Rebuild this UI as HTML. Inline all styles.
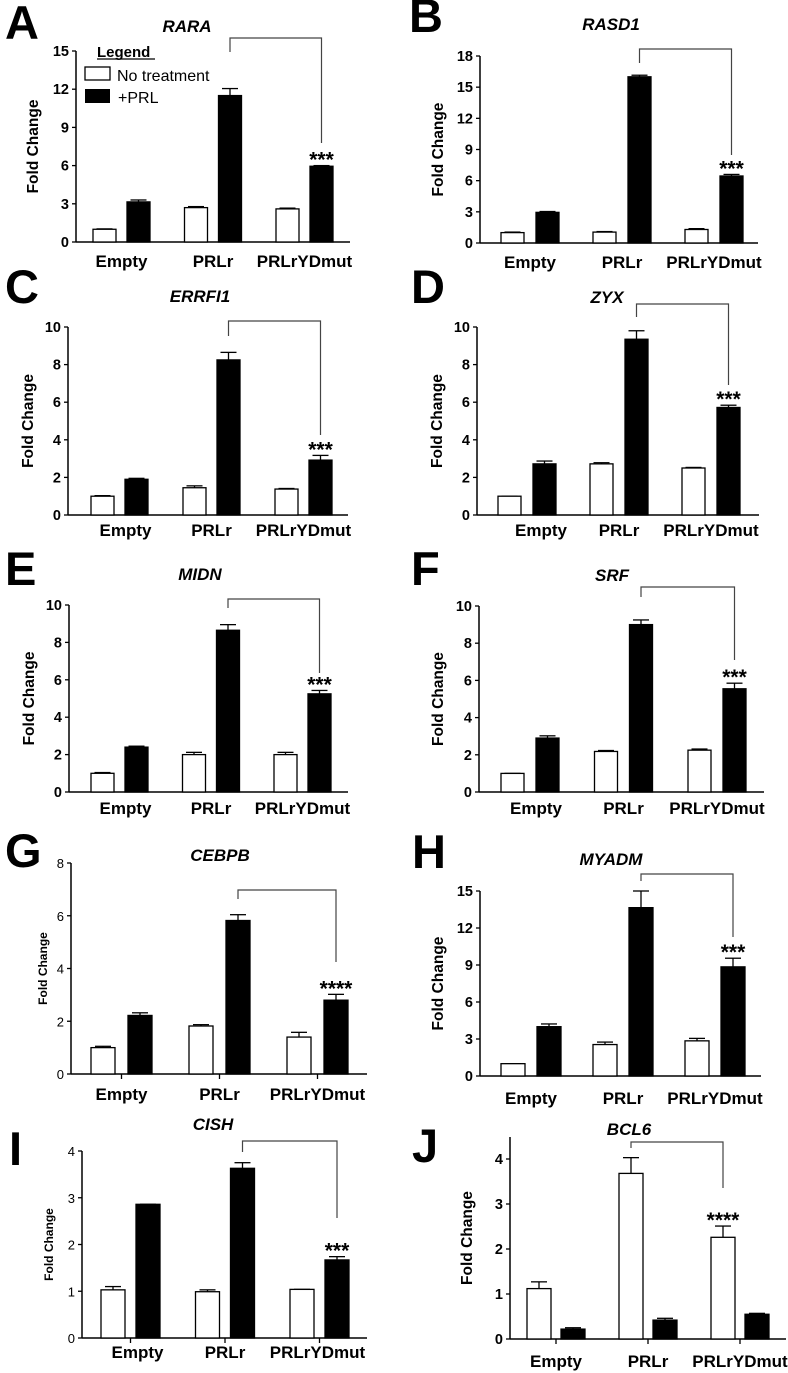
<!DOCTYPE html>
<html><head><meta charset="utf-8">
<style>
html,body{margin:0;padding:0;background:#fff;}
svg{display:block;font-family:"Liberation Sans",Arial,sans-serif;}
</style></head>
<body>
<svg id="fig" width="788" height="1373" viewBox="0 0 788 1373" xmlns="http://www.w3.org/2000/svg">
<rect width="788" height="1373" fill="#fff"/>
<g>
  <text x="97" y="57" font-size="15" font-weight="bold">Legend</text>
  <line x1="97" y1="59" x2="155" y2="59" stroke="#000" stroke-width="1.3"/>
  <rect x="85" y="67" width="25" height="13" fill="#fff" stroke="#000" stroke-width="1.3"/>
  <text x="117" y="81" font-size="16">No treatment</text>
  <rect x="85" y="89" width="25" height="14" fill="#000"/>
  <text x="118" y="103" font-size="16">+PRL</text>
</g>
</svg>
<script>
const categories = ["Empty","PRLr","PRLrYDmut"];

const raraNoTx = [1.0, 2.7, 2.6];
const raraPrl = [3.15, 11.5, 5.95];
const raraNoTxErr = [0.03, 0.08, 0.06];
const raraPrlErr = [0.15, 0.55, 0.05];
const raraTicks = [0,3,6,9,12,15];

const rasd1NoTx = [1.0, 1.05, 1.3];
const rasd1Prl = [2.95, 16.0, 6.45];
const rasd1NoTxErr = [0.05, 0.05, 0.08];
const rasd1PrlErr = [0.08, 0.15, 0.15];
const rasd1Ticks = [0,3,6,9,12,15,18];

const errfi1NoTx = [1.0, 1.45, 1.38];
const errfi1Prl = [1.9, 8.25, 2.92];
const errfi1NoTxErr = [0.03, 0.1, 0.03];
const errfi1PrlErr = [0.05, 0.4, 0.25];
const errfi1Ticks = [0,2,4,6,8,10];

const zyxNoTx = [1.0, 2.72, 2.5];
const zyxPrl = [2.72, 9.35, 5.72];
const zyxNoTxErr = [0.0, 0.06, 0.03];
const zyxPrlErr = [0.15, 0.45, 0.12];
const zyxTicks = [0,2,4,6,8,10];

const midnNoTx = [1.0, 2.0, 2.0];
const midnPrl = [2.4, 8.65, 5.25];
const midnNoTxErr = [0.04, 0.12, 0.12];
const midnPrlErr = [0.05, 0.3, 0.18];
const midnTicks = [0,2,4,6,8,10];

const srfNoTx = [1.0, 2.18, 2.25];
const srfPrl = [2.9, 9.0, 5.55];
const srfNoTxErr = [0.0, 0.05, 0.06];
const srfPrlErr = [0.12, 0.25, 0.3];
const srfTicks = [0,2,4,6,8,10];

const cebpbNoTx = [1.0, 1.82, 1.4];
const cebpbPrl = [2.22, 5.82, 2.8];
const cebpbNoTxErr = [0.05, 0.05, 0.18];
const cebpbPrlErr = [0.1, 0.22, 0.22];
const cebpbTicks = [0,2,4,6,8];

const myadmNoTx = [1.0, 2.55, 2.85];
const myadmPrl = [4.0, 13.65, 8.85];
const myadmNoTxErr = [0.0, 0.2, 0.2];
const myadmPrlErr = [0.22, 1.35, 0.7];
const myadmTicks = [0,3,6,9,12,15];

const cishNoTx = [1.03, 0.99, 1.04];
const cishPrl = [2.86, 3.63, 1.67];
const cishNoTxErr = [0.07, 0.04, 0.0];
const cishPrlErr = [0.0, 0.12, 0.07];
const cishTicks = [0,1,2,3,4];

const bcl6NoTx = [1.12, 3.68, 2.26];
const bcl6Prl = [0.22, 0.42, 0.55];
const bcl6NoTxErr = [0.15, 0.35, 0.25];
const bcl6PrlErr = [0.03, 0.04, 0.02];
const bcl6Ticks = [0,1,2,3,4];

const panels = [
 {id:"rara",letter:"A",lx:5,ly:39,title:"RARA",tx:187,ty:32,ax:76,y0:242,yTopPx:51,yMax:15,xEnd:350,o:17,g:91.5,d:34,w:23,
  noTx:raraNoTx,prl:raraPrl,noTxErr:raraNoTxErr,prlErr:raraPrlErr,ticks:raraTicks,br:[38,52,143],stars:"***",starOn:1,labDy:25,labDx:[0,0,0],titleDx:-38},
 {id:"rasd1",letter:"B",lx:409,ly:32,title:"RASD1",tx:611,ty:30,ax:480,y0:243,yTopPx:56,yMax:18,xEnd:758,o:21,g:92,d:35,w:23,
  noTx:rasd1NoTx,prl:rasd1Prl,noTxErr:rasd1NoTxErr,prlErr:rasd1PrlErr,ticks:rasd1Ticks,br:[49,63,155],stars:"***",starOn:1,labDy:25,labDx:[0,0,0],titleDx:-37},
 {id:"errfi1",letter:"C",lx:5,ly:303,title:"ERRFI1",tx:200,ty:302,ax:68,y0:515,yTopPx:327,yMax:10,xEnd:348,o:23,g:92,d:34,w:23,
  noTx:errfi1NoTx,prl:errfi1Prl,noTxErr:errfi1NoTxErr,prlErr:errfi1PrlErr,ticks:errfi1Ticks,br:[321,336,435],stars:"***",starOn:1,labDy:21,labDx:[6,0,0],titleDx:-35},
 {id:"zyx",letter:"D",lx:411,ly:303,title:"ZYX",tx:607,ty:303,ax:477,y0:515,yTopPx:327,yMax:10,xEnd:759,o:21,g:92,d:35,w:23,
  noTx:zyxNoTx,prl:zyxPrl,noTxErr:zyxNoTxErr,prlErr:zyxPrlErr,ticks:zyxTicks,br:[304,317,385],stars:"***",starOn:1,labDy:21,labDx:[14,0,0],titleDx:-35},
 {id:"midn",letter:"E",lx:5,ly:585,title:"MIDN",tx:200,ty:580,ax:69,y0:792,yTopPx:605,yMax:10,xEnd:348,o:22,g:91.5,d:34,w:23,
  noTx:midnNoTx,prl:midnPrl,noTxErr:midnNoTxErr,prlErr:midnPrlErr,ticks:midnTicks,br:[599,608,673],stars:"***",starOn:1,labDy:22,labDx:[6,0,0],titleDx:-35},
 {id:"srf",letter:"F",lx:411,ly:585,title:"SRF",tx:612,ty:581,ax:479,y0:792,yTopPx:606,yMax:10,xEnd:764,o:22,g:93.5,d:35,w:23,
  noTx:srfNoTx,prl:srfPrl,noTxErr:srfNoTxErr,prlErr:srfPrlErr,ticks:srfTicks,br:[587,597,660],stars:"***",starOn:1,labDy:22,labDx:[6,0,0],titleDx:-36},
 {id:"cebpb",letter:"G",lx:5,ly:867,title:"CEBPB",tx:220,ty:861,ax:71,y0:1074,yTopPx:863,yMax:8,xEnd:367,o:20,g:98,d:37,w:24,
  noTx:cebpbNoTx,prl:cebpbPrl,noTxErr:cebpbNoTxErr,prlErr:cebpbPrlErr,ticks:cebpbTicks,br:[890,899,962],stars:"****",starOn:1,labDy:26,labDx:[0,0,0],titleDx:-24,light:true,xTicks:true},
 {id:"myadm",letter:"H",lx:412,ly:868,title:"MYADM",tx:611,ty:865,ax:480,y0:1076,yTopPx:891,yMax:15,xEnd:761,o:21,g:92,d:36,w:24,
  noTx:myadmNoTx,prl:myadmPrl,noTxErr:myadmNoTxErr,prlErr:myadmPrlErr,ticks:myadmTicks,br:[874,881,937],stars:"***",starOn:1,labDy:28,labDx:[0,0,0],titleDx:-37},
 {id:"cish",letter:"I",lx:9,ly:1165,title:"CISH",tx:213,ty:1130,ax:82,y0:1338,yTopPx:1151,yMax:4,xEnd:367,o:19,g:94.5,d:35,w:24,
  noTx:cishNoTx,prl:cishPrl,noTxErr:cishNoTxErr,prlErr:cishPrlErr,ticks:cishTicks,br:[1141,1152,1218],stars:"***",starOn:1,labDy:20,labDx:[7,0,-2],titleDx:-29,light:true,xTicks:true},
 {id:"bcl6",letter:"J",lx:412,ly:1162,title:"BCL6",tx:629,ty:1135,ax:510,y0:1339,yTopPx:1159,yMax:4,axisTopPx:1137,xEnd:786,o:17,g:92,d:34,w:24,
  noTx:bcl6NoTx,prl:bcl6Prl,noTxErr:bcl6NoTxErr,prlErr:bcl6PrlErr,ticks:bcl6Ticks,br:[1142,1148,1188],stars:"****",starOn:0,labDy:28,labDx:[0,0,0],titleDx:-38,xTicks:true}
];

const NS = "http://www.w3.org/2000/svg";
const fig = document.getElementById("fig");
function mk(tag, attrs, parent){
  const e = document.createElementNS(NS, tag);
  for (const k in attrs) e.setAttribute(k, attrs[k]);
  parent.appendChild(e);
  return e;
}

panels.forEach(function(p){
  const g = mk("g", {}, fig);
  
  
  const yScale = function(v){ return p.y0 - (v / p.yMax) * (p.y0 - p.yTopPx); };
  const barX = function(i, s){ return p.ax + p.o + i * p.g + (s ? p.d : 0); };

  const L = mk("text", {x:p.lx, y:p.ly, "font-size":47, "font-weight":"bold"}, g);
  L.textContent = p.letter;
  
  

  const T = mk("text", {x:p.tx, y:p.ty, "font-size":17, "font-weight":"bold", "font-style":"italic", "text-anchor":"middle"}, g);
  T.textContent = p.title;
  
  

  const axTop = p.axisTopPx || p.yTopPx;
  const ya = mk("line", {x1:p.ax, y1:axTop, x2:p.ax, y2:p.y0, stroke:"#000", "stroke-width":1.5}, g);
  
  
  const xa = mk("line", {x1:p.ax, y1:p.y0, x2:p.xEnd, y2:p.y0, stroke:"#000", "stroke-width":1.5}, g);
  
  

  p.ticks.forEach(function(t){
    const y = yScale(t);
    const tl = mk("line", {x1:p.ax-4, y1:y, x2:p.ax, y2:y, stroke:"#000", "stroke-width":1.3}, g);
    
    
    const tt = mk("text", {x:p.ax-7, y:y+5, "font-size":p.light?13:14.5, "font-weight":p.light?"normal":"bold", "text-anchor":"end"}, g);
    tt.textContent = t;
    
    
  });

  const cy = (axTop + p.y0) / 2;
  const cx = p.ax + p.titleDx;
  const yt = mk("text", {x:cx, y:cy, "font-size":p.light?12:15.5, "font-weight":"bold", "text-anchor":"middle", transform:"rotate(-90 "+cx+" "+cy+")"}, g);
  yt.textContent = (p.id==="rara"||p.id==="errfi1") ? "Fold  Change" : "Fold Change";
  
  

  categories.forEach(function(c, i){
    [[p.noTx, p.noTxErr, "#fff", "no-treatment"], [p.prl, p.prlErr, "#000", "prl"]].forEach(function(s, si){
      const v = s[0][i], e = s[1][i];
      const x = barX(i, si);
      const yv = yScale(v);
      const ye = yScale(v + e);
      const cxm = x + p.w/2;
      const el = mk("line", {x1:cxm, y1:yv, x2:cxm, y2:ye, stroke:"#000", "stroke-width":1.3}, g);
      
      
      const cap = mk("line", {x1:cxm-8, y1:ye, x2:cxm+8, y2:ye, stroke:"#000", "stroke-width":1.3}, g);
      
      
      const r = mk("rect", {x:x, y:yv, width:p.w, height:p.y0 - yv, fill:s[2], stroke:"#000", "stroke-width":1.3}, g);
      
      
    });
    const gc = (barX(i,0) + barX(i,1) + p.w) / 2;
    if (p.xTicks) {
      const xt = mk("line", {x1:gc, y1:p.y0, x2:gc, y2:p.y0+5, stroke:"#000", "stroke-width":1.3}, g);
      
      
    }
    const lab = mk("text", {x:gc + p.labDx[i], y:p.y0 + p.labDy, "font-size":17, "font-weight":"bold", "text-anchor":"middle"}, g);
    lab.textContent = c;
    
    
  });

  const s = p.starOn;
  const lx = barX(1, s) + p.w/2;
  const rx = barX(2, s) + p.w/2;
  const br = mk("polyline", {points: lx+","+p.br[1]+" "+lx+","+p.br[0]+" "+rx+","+p.br[0]+" "+rx+","+p.br[2], fill:"none", stroke:"#444", "stroke-width":1.2}, g);
  
  
  const sv = (s ? p.prl : p.noTx)[2] + (s ? p.prlErr : p.noTxErr)[2];
  const st = mk("text", {x:rx, y:yScale(sv) + 1, "font-size":21, "font-weight":"bold", "text-anchor":"middle"}, g);
  st.textContent = p.stars;
  
  
});
</script>
</body></html>
